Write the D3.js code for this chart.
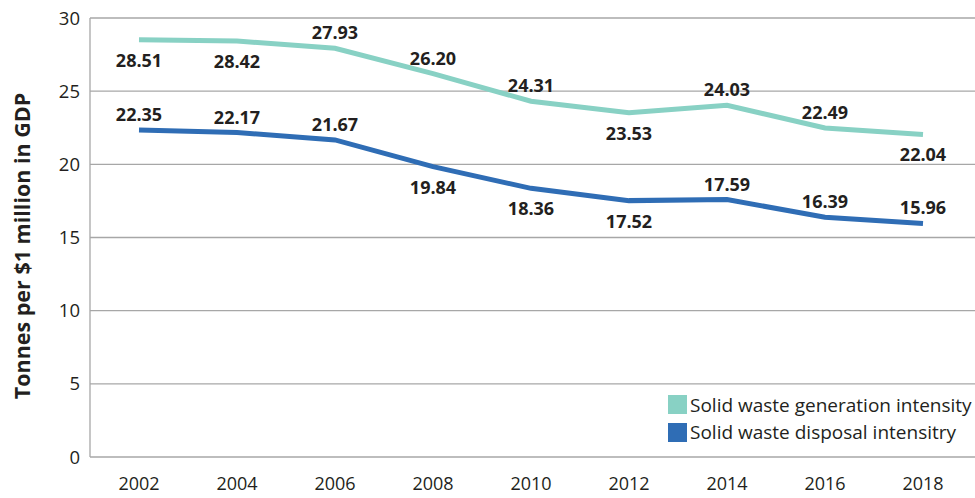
<!DOCTYPE html>
<html>
<head>
<meta charset="utf-8">
<script src="https://cdn.jsdelivr.net/npm/d3@7"></script>
<style>
  body { margin: 0; background: #fff; }
  svg { display: block; font-family: "Open Sans", sans-serif; }
</style>
</head>
<body>
<div id="chart"></div>
<script>
var years = ["2002", "2004", "2006", "2008", "2010", "2012", "2014", "2016", "2018"];
var generation = [28.51, 28.42, 27.93, 26.20, 24.31, 23.53, 24.03, 22.49, 22.04];
var disposal = [22.35, 22.17, 21.67, 19.84, 18.36, 17.52, 17.59, 16.39, 15.96];
// label above (-1) or below (1) the point
var genLabelSide = [1, 1, -1, -1, -1, 1, -1, -1, 1];
var disLabelSide = [-1, -1, -1, 1, 1, 1, -1, -1, -1];
var yTicks = [0, 5, 10, 15, 20, 25, 30];

var W = 975, H = 498;
var margin = {top: 18, right: 3, bottom: 41, left: 90};

var svg = d3.select("#chart").append("svg")
  .attr("width", W).attr("height", H);

var x = d3.scaleBand().domain(years)
  .range([margin.left, W - margin.right]);
var y = d3.scaleLinear().domain([0, 30])
  .range([H - margin.bottom, margin.top]);

var series = [
  {name: "Solid waste generation intensity", values: generation, side: genLabelSide, color: "#88d1c4"},
  {name: "Solid waste disposal intensitry", values: disposal, side: disLabelSide, color: "#2f6db5"}
];

// gridlines
svg.append("g").selectAll("line")
  .data(yTicks).enter().append("line")
  .attr("x1", margin.left).attr("x2", W)
  .attr("y1", function(d){ return y(d); })
  .attr("y2", function(d){ return y(d); })
  .style("stroke", "#a7a7a7")
  .style("stroke-width", "1.3px");

svg.append("line")
  .attr("x1", margin.left).attr("x2", margin.left)
  .attr("y1", y(30)).attr("y2", y(0))
  .style("stroke", "#a7a7a7")
  .style("stroke-width", "1.3px");

// y tick labels
svg.append("g").selectAll("text")
  .data(yTicks).enter().append("text")
  .attr("x", 80)
  .attr("y", function(d){ return y(d); })
  .attr("dy", "0.36em")
  .attr("text-anchor", "end")
  .style("font-size", "18.5px")
  .style("fill", "#231f20")
  .text(function(d){ return d; });

// x tick labels
svg.append("g").selectAll("text")
  .data(years).enter().append("text")
  .attr("x", function(d){ return x(d) + x.bandwidth()/2; })
  .attr("y", 490)
  .attr("text-anchor", "middle")
  .style("font-size", "18px")
  .style("fill", "#231f20")
  .text(function(d){ return d; });

// y title
svg.append("text")
  .attr("transform", "translate(30,246) rotate(-90)")
  .attr("text-anchor", "middle")
  .style("font-size", "21.5px")
  .style("font-weight", "bold")
  .style("fill", "#231f20")
  .text("Tonnes per $1 million in GDP");

var line = d3.line()
  .x(function(d, i){ return x(years[i]) + x.bandwidth()/2; })
  .y(function(d){ return y(d); });

series.forEach(function(s){
  svg.append("path")
    .datum(s.values)
    .attr("d", line)
    .style("fill", "none")
    .style("stroke", s.color)
    .style("stroke-width", "5px");
});

series.forEach(function(s){
  svg.append("g").selectAll("text")
    .data(s.values).enter().append("text")
    .attr("x", function(d, i){ return x(years[i]) + x.bandwidth()/2; })
    .attr("y", function(d, i){ return y(d) + (s.side[i] < 0 ? -9 : 27); })
    .attr("text-anchor", "middle")
    .style("font-size", "18px")
    .style("font-weight", "bold")
    .style("fill", "#231f20")
    .text(function(d){ return d3.format(".2f")(d); });
});

// legend
var legend = svg.append("g").attr("transform", "translate(668,395)");
series.forEach(function(s, i){
  legend.append("rect")
    .attr("x", 0).attr("y", i*28)
    .attr("width", 19).attr("height", 19)
    .style("fill", s.color);
  legend.append("text")
    .attr("x", 22).attr("y", i*27 + 17)
    .style("font-size", "19px")
    .style("fill", "#231f20")
    .text(s.name);
});
</script>
</body>
</html>
